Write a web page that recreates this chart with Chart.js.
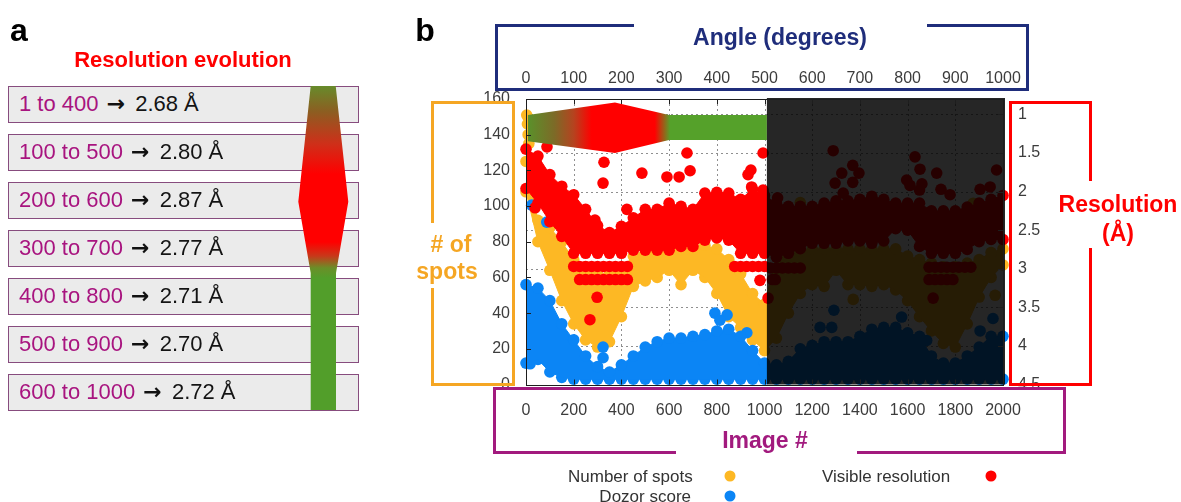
<!DOCTYPE html>
<html>
<head>
<meta charset="utf-8">
<title>Resolution evolution</title>
<script src="https://cdn.jsdelivr.net/npm/chart.js@4.4.1/dist/chart.umd.min.js"></script>
<style>
  html,body{margin:0;padding:0;background:#ffffff;}
  #wrap{position:relative;width:1181px;height:502px;overflow:hidden;font-family:"Liberation Sans",Arial,Helvetica,sans-serif;background:#fff;}
  #chart{position:absolute;left:0;top:0;}
  .lbl{position:absolute;white-space:nowrap;transform:translate(-50%,-50%);font-weight:bold;line-height:1;}
  .seg{position:absolute;}
  .pbox{position:absolute;left:8px;width:351px;height:37px;box-sizing:border-box;background:#ebebeb;border:1.5px solid #874c7e;font-size:22px;line-height:34px;padding-left:10px;color:#141414;white-space:nowrap;}
  .pbox .rng{color:#a8147f;}
  .pbox .arr{font-family:"DejaVu Sans",sans-serif;font-weight:bold;font-size:22px;color:#111;margin:0 4px 0 2px;}
  #shape{position:absolute;left:298px;top:86px;width:51px;height:324px;
    clip-path:polygon(12.7px 0px, 37.7px 0px, 50.3px 115.7px, 38px 187px, 38px 324px, 12.7px 324px, 12.7px 187px, 0.3px 115.7px);
    background:linear-gradient(to bottom,#678b2b 0px,#8d5d21 26px,#cf2f19 58px,#ff0000 88px,#ff0000 156px,#c8381a 170px,#6a8f28 182px,#529e2a 192px,#529e2a 324px);}
  .leg{position:absolute;font-size:17px;color:#333;white-space:nowrap;line-height:1;transform:translateY(-50%);}
  .dot{position:absolute;width:11px;height:11px;border-radius:50%;transform:translate(-50%,-50%);}
</style>
</head>
<body>
<div id="wrap">
  <canvas id="chart" width="1181" height="502"></canvas>
</div>
<script>
// ---------------- data ----------------
const imageX = [0,50,100,150,200,250,300,350,400,450,500,550,600,650,700,750,800,850,900,950,1000,
                1050,1100,1150,1200,1250,1300,1350,1400,1450,1500,1550,1600,1650,1700,1750,1800,1850,1900,1950,2000];
// Number of spots: upper / lower edge of the point cloud
const spotsHigh = [125,92,88,80,70,66,62,62,65,72,76,76,76,76,78,78,76,70,62,51,45,
                   72,74,75,76,76,76,76,76,76,76,76,72,70,68,66,66,68,70,74,76];
const spotsLow  = [108,80,64,47,34,25,21,24,38,55,58,60,64,56,64,60,51,38,32,25,19,
                   26,40,51,56,55,64,56,56,55,56,53,47,38,30,23,21,34,49,60,67];
const spotsDotImg = [3,6,9,12,1150,1372,1875,1967];
const spotsDotVal = [151,146,140,135,102,47.7,101.6,50];
// Dozor score
const dozorHigh = [56,54,47,34,25,16,10,7,11,16,21,24,26,26,27,28,30,31,27,19,12,
                   11,13,20,22,24,24,24,27,31,32,32,29,27,16,12,12,16,21,27,27];
const dozorLow  = [12,14,7,4,3,3,3,3,3,3,3,3,3,3,3,3,3,3,3,3,3,
                   3,3,3,3,3,3,3,3,3,3,3,3,3,3,3,3,3,3,3,3];
const dozorDotImg = [323,323,792,843,813,926,1233,1282,1291,1575,1680,1904,1958,87,24,17];
const dozorDotVal = [21,15,40,39,36,29,32,32,41.6,37.8,24.7,30,37,91,100.5,11.6];
// Visible resolution (Å): best / worst edge of the point cloud
const resHigh = [1.45,1.54,1.78,1.93,2.04,2.23,2.44,2.53,2.45,2.34,2.23,2.23,2.15,2.19,2.23,2.02,2.01,2.02,2.10,1.97,2.05,
                 2.15,2.19,2.19,2.19,2.15,2.12,2.12,2.10,2.06,2.10,2.15,2.15,2.15,2.25,2.25,2.25,2.20,2.15,2.10,2.05];
const resLow  = [1.96,2.15,2.39,2.58,2.80,2.80,2.80,2.80,2.80,2.76,2.76,2.76,2.76,2.71,2.71,2.63,2.60,2.63,2.80,2.80,2.80,
                 2.85,2.80,2.74,2.67,2.67,2.67,2.64,2.64,2.67,2.64,2.48,2.50,2.71,2.80,2.80,2.80,2.75,2.65,2.62,2.62];
const resDotImg = [200,225,250,275,300,325,350,375,400,425, 225,250,275,300,325,350,375,400,425,
                   875,900,925,950,975,1000, 1025,1050,1075,1100,1125,1150, 1033,1045,
                   1690,1715,1740,1765,1790,1815,1840,1865, 1690,1715,1740,1765,1790,
                   88,327,323,289,423,486,591,642,688,675,994,931,943,298,268,38,981,1015,994,946,
                   1055,1099,1288,1370,1324,1396,1370,1296,1330,1631,1652,1722,1596,1610,1660,1650,1740,1778,1973,1946,1904,1707];
const resDotVal = [2.97,2.97,2.97,2.97,2.97,2.97,2.97,2.97,2.97,2.97, 3.14,3.14,3.14,3.14,3.14,3.14,3.14,3.14,3.14,
                   2.97,2.97,2.97,2.97,2.97,2.97, 2.99,2.99,2.99,2.99,2.99,2.99, 3.14,3.14,
                   2.98,2.98,2.98,2.98,2.98,2.98,2.98,2.98, 3.14,3.14,3.14,3.14,3.14,
                   1.42,1.62,1.89,2.37,2.23,1.76,1.81,1.81,1.73,1.50,1.50,1.78,1.72,3.37,3.66,2.21,3.15,3.38,1.98,1.94,
                   2.08,2.28,1.47,1.66,1.76,1.76,1.88,1.89,2.02,1.55,1.71,1.76,1.85,1.92,1.90,1.98,1.97,2.04,1.72,1.94,1.97,3.38];
// resolution-evolution strip drawn on the plot (image #, # of spots)
const stripImg    = [8,373,600,1010];
const stripTop    = [151,158,151,151];
const stripBottom = [136.3,129.7,137,137];
const stripStopImg = [8,120,200,275,540,604];
const stripStopCol = ['#5a912b','#7d6a27','#b5431f','#ff0000','#ff0000','#55a12a'];
const shadedFromImg = 1010;
// axes
const imageTicks = [0,200,400,600,800,1000,1200,1400,1600,1800,2000];
const angleTicks = [0,100,200,300,400,500,600,700,800,900,1000];
const spotTicks  = [0,20,40,60,80,100,120,140,160];
const resTicks   = [1,1.5,2,2.5,3,3.5,4,4.5];
// panel a
const panelRanges = ['1 to 400','100 to 500','200 to 600','300 to 700','400 to 800','500 to 900','600 to 1000'];
const panelRes    = ['2.68','2.80','2.87','2.77','2.71','2.70','2.72'];
const seriesNames = ['Number of spots','Dozor score','Visible resolution'];
const seriesCols  = ['#fdb824','#0b85f5','#ff0000'];

// ---------------- static layout (HTML) ----------------
const wrap = document.getElementById('wrap');
function el(tag, cls, css, html){ const e=document.createElement(tag); if(cls) e.className=cls; Object.assign(e.style, css||{}); if(html!==undefined) e.innerHTML=html; wrap.appendChild(e); return e; }
function seg(x,y,w,h,c){ el('div','seg',{left:x+'px',top:y+'px',width:w+'px',height:h+'px',background:c}); }
function lbl(x,y,txt,size,col){ el('div','lbl',{left:x+'px',top:y+'px',fontSize:size+'px',color:col},txt); }

// panel a
lbl(19,30,'a',32,'#000');
lbl(425,30,'b',32,'#000');
lbl(183,60,'Resolution evolution',22,'#ff0000');
panelRanges.forEach((r,i)=>{
  el('div','pbox',{top:(86+48*i)+'px'},'<span class="rng">'+r+'</span> <span class="arr">\u2192</span> '+panelRes[i]+' \u00C5');
});
const sh = document.createElement('div'); sh.id='shape'; wrap.appendChild(sh);

// blue box (angle)
const BL='#1f2d7b';
seg(495,24,139,3,BL); seg(927,24,102,3,BL); seg(495,24,3,67,BL); seg(1026,24,3,67,BL); seg(495,88,534,3,BL);
lbl(780,37,'Angle (degrees)',23,BL);
// magenta box (image #)
const MG='#a21a7e';
seg(493,387,573,3,MG); seg(493,387,3,67,MG); seg(1063,387,3,67,MG); seg(493,451,183,3,MG); seg(857,451,209,3,MG);
lbl(765,440,'Image #',23,MG);
// orange box (# of spots)
const OR='#f5a623';
seg(431,101,3,122,OR); seg(431,288,3,98,OR); seg(431,101,84,3,OR); seg(512,101,3,285,OR); seg(431,383,84,3,OR);
lbl(451,244,'# of',23,OR); lbl(447,271,'spots',23,OR);
// red box (resolution)
const RD='#ff0000';
seg(1009,101,3,285,RD); seg(1009,101,83,3,RD); seg(1089,101,3,80,RD); seg(1089,248,3,138,RD); seg(1009,383,83,3,RD);
lbl(1118,204,'Resolution',23,RD); lbl(1118,233,'(\u00C5)',23,RD);
// legend
el('div','leg',{left:'568px',top:'476px',width:'123px',textAlign:'right'},seriesNames[0]);
el('div','dot',{left:'730px',top:'476px',background:seriesCols[0]});
el('div','leg',{left:'568px',top:'496px',width:'123px',textAlign:'right'},seriesNames[1]);
el('div','dot',{left:'730px',top:'496px',background:seriesCols[1]});
el('div','leg',{left:'822px',top:'476px'},seriesNames[2]);
el('div','dot',{left:'991px',top:'476px',background:seriesCols[2]});

// ---------------- chart ----------------
Chart.defaults.font.family = "'Liberation Sans', Arial, sans-serif";
Chart.defaults.font.size = 16;
Chart.defaults.color = '#3c3c3c';

const R = 5.8;
const pairs = (xs, ys) => xs.map((v,i)=>({x:v, y:ys[i]}));
function ds(label, data, color, axis, order, fill, showLine){
  return {label, data, yAxisID:axis, order, fill, showLine,
    borderColor:color, backgroundColor:color, pointBackgroundColor:color, pointBorderColor:color,
    pointBorderWidth:0, pointRadius:R, pointHoverRadius:R, borderWidth:1, tension:0, clip:false};
}
const datasets = [
  ds(seriesNames[2], pairs(imageX,resHigh), seriesCols[2], 'y2', 1, '+1', true),
  ds(seriesNames[2]+' low', pairs(imageX,resLow), seriesCols[2], 'y2', 1, false, true),
  ds(seriesNames[2]+' pts', pairs(resDotImg,resDotVal), seriesCols[2], 'y2', 1, false, false),
  ds(seriesNames[1], pairs(imageX,dozorHigh), seriesCols[1], 'y', 2, '+1', true),
  ds(seriesNames[1]+' low', pairs(imageX,dozorLow), seriesCols[1], 'y', 2, false, true),
  ds(seriesNames[1]+' pts', pairs(dozorDotImg,dozorDotVal), seriesCols[1], 'y', 2, false, false),
  ds(seriesNames[0], pairs(imageX,spotsHigh), seriesCols[0], 'y', 3, '+1', true),
  ds(seriesNames[0]+' low', pairs(imageX,spotsLow), seriesCols[0], 'y', 3, false, true),
  ds(seriesNames[0]+' pts', pairs(spotsDotImg,spotsDotVal), seriesCols[0], 'y', 3, false, false)
];

const fixedTicks = arr => scale => { scale.ticks = arr.map(v=>({value:v})); };
const noGrid = {display:false, drawTicks:false};

const decor = {
  id:'decor',
  beforeDatasetsDraw(chart){
    const {ctx, chartArea:a, scales:{x, y2}} = chart;
    ctx.save();
    ctx.strokeStyle = '#8f8f8f'; ctx.lineWidth = 1; ctx.setLineDash([2,3]);
    ctx.beginPath();
    imageTicks.forEach(v=>{ if(v<=0||v>=2000) return; const px=Math.round(x.getPixelForValue(v))+0.5; ctx.moveTo(px,a.top); ctx.lineTo(px,a.bottom); });
    resTicks.forEach(v=>{ const py=Math.round(y2.getPixelForValue(v))+0.5; if(py<=a.top+1||py>=a.bottom-1) return; ctx.moveTo(a.left,py); ctx.lineTo(a.right,py); });
    ctx.stroke();
    ctx.restore();
  },
  afterDatasetsDraw(chart){
    const {ctx, chartArea:a, scales:{x, y, y2}} = chart;
    ctx.save();
    // resolution-evolution strip
    const g = ctx.createLinearGradient(x.getPixelForValue(stripStopImg[0]),0,x.getPixelForValue(stripStopImg[stripStopImg.length-1]),0);
    const span = stripStopImg[stripStopImg.length-1]-stripStopImg[0];
    stripStopImg.forEach((v,i)=>g.addColorStop((v-stripStopImg[0])/span, stripStopCol[i]));
    ctx.fillStyle = g;
    ctx.beginPath();
    stripImg.forEach((v,i)=>{ const px=x.getPixelForValue(v), py=y.getPixelForValue(stripTop[i]); i?ctx.lineTo(px,py):ctx.moveTo(px,py); });
    for(let i=stripImg.length-1;i>=0;i--) ctx.lineTo(x.getPixelForValue(stripImg[i]), y.getPixelForValue(stripBottom[i]));
    ctx.closePath(); ctx.fill();
    // shaded (second half) region
    const sx = x.getPixelForValue(shadedFromImg);
    ctx.fillStyle = 'rgba(0,0,0,0.85)';
    ctx.fillRect(sx, a.top-1, a.right+2-sx, a.bottom-a.top+1);
    // frame
    ctx.strokeStyle = '#1e1e1e'; ctx.lineWidth = 1;
    ctx.strokeRect(Math.round(a.left)+0.5, Math.round(a.top)+0.5, Math.round(a.right-a.left), Math.round(a.bottom-a.top));
    // inward tick marks
    ctx.beginPath();
    spotTicks.forEach(v=>{ const py=Math.round(y.getPixelForValue(v))+0.5; ctx.moveTo(a.left,py); ctx.lineTo(a.left+5,py); });
    resTicks.forEach(v=>{ const py=Math.round(y2.getPixelForValue(v))+0.5; ctx.moveTo(a.right,py); ctx.lineTo(a.right-5,py); });
    imageTicks.forEach(v=>{ const px=Math.round(x.getPixelForValue(v))+0.5; ctx.moveTo(px,a.bottom); ctx.lineTo(px,a.bottom-5); ctx.moveTo(px,a.top); ctx.lineTo(px,a.top+5); });
    ctx.stroke();
    // white fill of the annotation box (drawn under its tick labels)
    ctx.fillStyle = '#ffffff';
    ctx.fillRect(493, 388, 573, 66);
    ctx.restore();
  }
};

new Chart(document.getElementById('chart'), {
  type:'line',
  data:{datasets},
  options:{
    responsive:false, animation:false, events:[], devicePixelRatio:1,
    layout:{padding:{left:426, right:78, top:59, bottom:57.5}},
    plugins:{legend:{display:false}, tooltip:{enabled:false}},
    scales:{
      x:{type:'linear', position:'bottom', min:0, max:2000, grid:noGrid, border:{display:false},
         ticks:{padding:16, autoSkip:false, maxRotation:0, z:1, callback:v=>String(v)},
         afterBuildTicks:fixedTicks(imageTicks), afterFit:s=>{s.height=60;}},
      x2:{type:'linear', position:'top', min:0, max:1000, grid:noGrid, border:{display:false},
         ticks:{padding:11, autoSkip:false, maxRotation:0, z:1, callback:v=>String(v)},
         afterBuildTicks:fixedTicks(angleTicks), afterFit:s=>{s.height=40;}},
      y:{type:'linear', position:'left', min:0, max:160, grid:noGrid, border:{display:false},
         ticks:{padding:16, autoSkip:false, callback:v=>String(v)},
         afterBuildTicks:fixedTicks(spotTicks), afterFit:s=>{s.width=100;}},
      y2:{type:'linear', position:'right', min:0.8, max:4.5, reverse:true, grid:noGrid, border:{display:false},
         ticks:{padding:15, autoSkip:false, callback:v=>String(v)},
         afterBuildTicks:fixedTicks(resTicks), afterFit:s=>{s.width=100;}}
    }
  },
  plugins:[decor]
});
</script>
</body>
</html>
